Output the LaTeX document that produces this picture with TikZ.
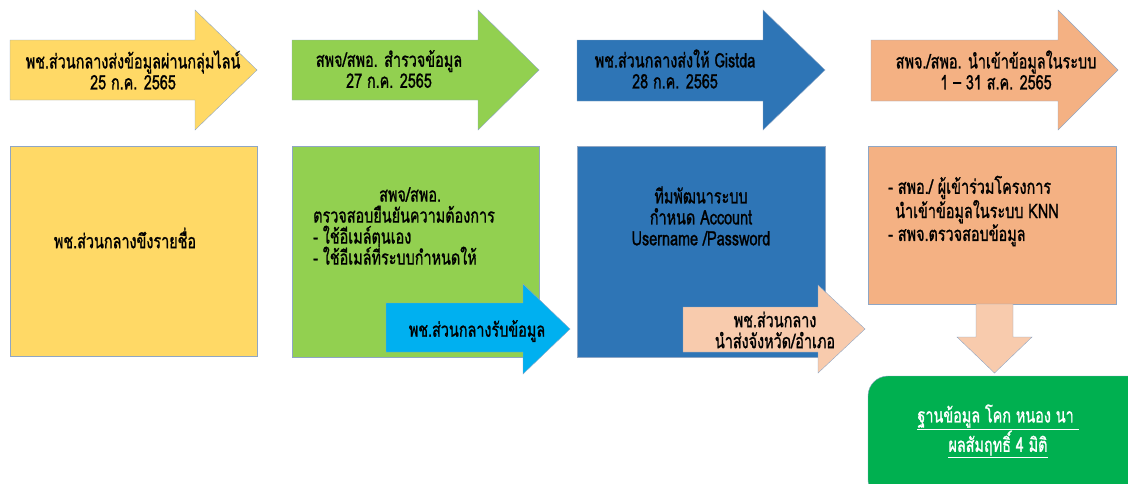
\documentclass[tikz,border=0pt]{standalone}
\usepackage{fontspec}
\newfontfamily\thaifont[Script=Thai, FakeStretch=0.72, FakeBold=1]{Loma}
\definecolor{edgeblue}{HTML}{8FA6C4}
\definecolor{yelfill}{HTML}{FFD966}
\definecolor{grnfill}{HTML}{92D050}
\definecolor{blufill}{HTML}{2E75B6}
\definecolor{orgfill}{HTML}{F4B183}
\definecolor{cyafill}{HTML}{00B0F0}
\definecolor{pchfill}{HTML}{F8CBAD}
\definecolor{dbfill}{HTML}{00B050}

% fill, left x, neck x, tip x, body top, body bottom, head top, head bottom
\newcommand{\blockarrow}[8]{%
  \filldraw[fill=#1, draw=edgeblue, thin]
    (#2,#5) -- (#3,#5) -- (#3,#7) -- (#4,{(#7+#8)/2}) -- (#3,#8) -- (#3,#6) -- (#2,#6) -- cycle;}

\tikzset{
  thaitext/.style={font=\thaifont\fontsize{20}{21}\selectfont, align=center, inner sep=0pt},
  stepbox/.style={draw=edgeblue, thin},
}

\begin{document}
\begin{tikzpicture}[x=1pt, y=-1pt]
\useasboundingbox (0,0) rectangle (1128,483);
\clip (0,0) rectangle (1128,483);

    % top row of arrows
    \blockarrow{yelfill}{10}{195}{257}{40}{100}{10}{130}
    \blockarrow{grnfill}{292}{478}{539}{40}{100}{10}{130}
    \blockarrow{blufill}{577}{763}{825}{40}{101}{10}{130}
    \blockarrow{orgfill}{871}{1058}{1118}{40}{101}{10}{130}

    \node [thaitext] (headone) at (133,70) {พช.ส่วนกลางส่งข้อมูลผ่านกลุ่มไลน์\\25 ก.ค. 2565};
    \node [thaitext] (headtwo) at (389,69) {สพจ/สพอ. สำรวจข้อมูล\\27 ก.ค. 2565};
    \node [thaitext] (headthree) at (675,69) {พช.ส่วนกลางส่งให้ Gistda\\28 ก.ค. 2565};
    \node [thaitext] (headfour) at (996,70) {สพจ./สพอ. นำเข้าข้อมูลในระบบ\\1 – 31 ส.ค. 2565};

    % boxes under the arrows
    \filldraw [stepbox, fill=yelfill] (10,146) rectangle (257,356);
    \filldraw [stepbox, fill=grnfill] (292,146) rectangle (539,357);
    \filldraw [stepbox, fill=blufill] (577,146) rectangle (825,357);
    \filldraw [stepbox, fill=orgfill] (868,146) rectangle (1116,304);

    \node [thaitext] (boxone) at (125,238) {พช.ส่วนกลางขึงรายชื่อ};
    \node [thaitext, align=left, anchor=west] (boxtwo) at (313,226) {%
      \hspace*{66pt}สพจ/สพอ.\\
      ตรวจสอบยืนยันความต้องการ\\
      - ใช้อีเมล์ตนเอง\\
      - ใช้อีเมล์ที่ระบบกำหนดให้};
    \node [thaitext] (boxthree) at (701,216) {ทีมพัฒนาระบบ\\กำหนด Account\\Username /Password};
    \node [thaitext, align=left, anchor=west] (boxfour) at (888,211) {- สพอ./ ผู้เข้าร่วมโครงการ\\\hspace{7pt}นำเข้าข้อมูลในระบบ KNN\\- สพจ.ตรวจสอบข้อมูล};

    % small arrows between boxes
    \blockarrow{cyafill}{386}{523}{570}{303}{352}{284}{374}
    \node [thaitext] (getdata) at (477,331) {พช.ส่วนกลางรับข้อมูล};
    \blockarrow{pchfill}{683}{818}{865}{307}{352}{285}{373}
    \node [thaitext] (senddata) at (775,330) {พช.ส่วนกลาง\\นำส่งจังหวัด/อำเภอ};

    % down arrow into the database box
    \filldraw [stepbox, fill=pchfill] (976,304) -- (1013,304) -- (1013,337) -- (1032,337)
        -- (994.5,373) -- (957,337) -- (976,337) -- cycle;

    \filldraw [draw=edgeblue, fill=dbfill, rounded corners=20pt] (868,376) rectangle (1150,500);
    \node [thaitext, text=white] (database) at (998,431) {\underline{ฐานข้อมูล โคก หนอง นา }\\\underline{ผลสัมฤทธิ์ 4 มิติ}};

\end{tikzpicture}
\end{document}
